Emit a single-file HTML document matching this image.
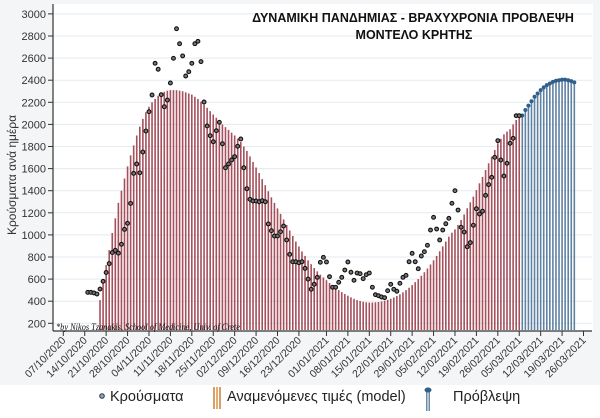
<!DOCTYPE html>
<html><head><meta charset="utf-8"><style>
html,body{margin:0;padding:0;background:#fff;}
svg{display:block;font-family:"Liberation Sans","DejaVu Sans",sans-serif;}
</style></head><body>
<svg id="chart" width="600" height="418" viewBox="0 0 600 418">
<rect x="0" y="0" width="600" height="385" fill="#f3f5f7"/>
<rect x="53" y="4" width="540" height="327" fill="#ffffff"/>
<g id="grid"></g>
<g id="bars"></g>
<g id="dots"></g>
<g id="axes"></g>
<text x="12" y="179" transform="rotate(-90 12 175)" text-anchor="middle" font-size="12" fill="#333">Κρούσματα ανά ημέρα</text>
<text x="413" y="22" text-anchor="middle" font-size="12.5" font-weight="bold" fill="#111">ΔΥΝΑΜΙΚΗ ΠΑΝΔΗΜΙΑΣ - ΒΡΑΧΥΧΡΟΝΙΑ ΠΡΟΒΛΕΨΗ</text>
<text x="414" y="39" text-anchor="middle" font-size="12.5" font-weight="bold" fill="#111">ΜΟΝΤΕΛΟ ΚΡΗΤΗΣ</text>
<text x="56" y="330" font-size="9" font-style="italic" font-family="Liberation Serif,serif" fill="#111" textLength="184" lengthAdjust="spacingAndGlyphs">*by Nikos Tzanakis, School of Medicine, Univ. of Crete</text>
<g>
<circle cx="102" cy="396" r="2.3" fill="#8aa" stroke="#335" stroke-width="1"/>
<text x="110" y="401" font-size="14.5" fill="#222">Κρούσματα</text>
<g>
<rect x="213" y="387" width="2" height="22" fill="#d9a066"/><rect x="216" y="387" width="2" height="22" fill="#e0b07a"/><rect x="219" y="387" width="2" height="22" fill="#d9a066"/>
</g>
<text x="227" y="401" font-size="14.5" fill="#222">Αναμενόμενες τιμές (model)</text>
<g>
<rect x="426" y="389" width="1.5" height="22" fill="#6b8aa6"/><rect x="428.5" y="389" width="1.5" height="22" fill="#6b8aa6"/><ellipse cx="428" cy="390" rx="3.5" ry="2.5" fill="#2f5f8a"/>
</g>
<text x="453" y="401" font-size="14.5" fill="#222">Πρόβλεψη</text>
</g>
</svg>
<script>
const yTicks = [200,400,600,800,1000,1200,1400,1600,1800,2000,2200,2400,2600,2800,3000];
const xTickLabels = ["07/10/2020","14/10/2020","21/10/2020","28/10/2020","04/11/2020","11/11/2020","18/11/2020","25/11/2020","02/12/2020","09/12/2020","16/12/2020","23/12/2020","01/01/2021","08/01/2021","15/01/2021","22/01/2021","29/01/2021","05/02/2021","12/02/2021","19/02/2021","26/02/2021","05/03/2021","12/03/2021","19/03/2021","26/03/2021"];
const xTickDays = [0,7,14,21,28,35,42,49,56,63,70,77,86,93,100,107,114,121,128,135,142,149,156,163,170];
const modelStartDay = 12;
const modelValues = [410,576,727,862,1017,1150,1290,1400,
1510,1620,1720,1810,1900,1980,2050,2110,2160,2200,
2230,2260,2280,2295,2305,2310,2310,2310,2305,2300,
2290,2280,2270,2250,2230,2205,2180,2150,2120,2090,
2060,2030,2000,1975,1950,1925,1900,1870,1840,1800,
1760,1710,1660,1610,1560,1505,1450,1395,1340,1290,
1240,1190,1140,1090,1040,990,940,895,850,810,
770,735,700,670,640,615,590,565,540,520,
500,482,465,450,435,422,410,402,395,390,
388,388,390,393,398,404,412,422,434,447,
462,480,500,522,546,572,600,630,662,696,
732,770,810,852,896,940,984,1020,1050,1090,
1135,1185,1241,1295,1346,1405,1467,1525,1587,1648,
1708,1768,1829,1870,1910,1935,1956,2000,2040,2060];
const forecastStartDay = 150;
const forecastValues = [2080,2130,2170,2210,2250,2280,2310,2335,2355,2370,2385,2395,2400,2405,2405,2400,2392,2380];
const casesStartDay = 8;
const casesValues = [480,480,475,465,510,580,660,740,840,860,
835,915,1050,1105,1285,1557,1642,1562,1750,1940,
2115,2266,2553,2499,2269,2160,2220,2375,2598,2866,
2730,2620,2438,2477,2553,2730,2752,2568,2203,1986,
1898,1843,1943,2019,1825,1608,1642,1678,1708,1802,
1868,1608,1418,1322,1307,1307,1300,1310,1300,1099,
1038,990,990,1029,1080,954,824,757,757,748,
757,697,600,508,553,616,752,797,755,622,
526,526,571,616,682,755,662,589,655,649,
604,640,655,526,459,450,438,432,495,553,
508,490,562,616,634,757,833,757,694,809,
848,906,1044,1159,1053,954,1044,1101,1150,1286,
1400,1225,1069,1026,893,930,1087,1237,1189,1214,
1358,1455,1521,1702,1853,1678,1533,1648,1829,1874,
2079,2079];

const NS = "http://www.w3.org/2000/svg";
function xS(d){ return 63.3 + d*3.06; }
function yS(v){ return 323.3 - (v-200)*0.1105; }
const baseY = 330;
function mk(tag, attrs, parent){
  const el = document.createElementNS(NS, tag);
  for (const k in attrs) el.setAttribute(k, attrs[k]);
  parent.appendChild(el);
  return el;
}
const grid = document.getElementById('grid');
const axes = document.getElementById('axes');
const bars = document.getElementById('bars');
const dots = document.getElementById('dots');

yTicks.forEach(v => {
  const g = mk('line', {x1:54, x2:592, y1:yS(v), y2:yS(v), stroke:'#e3eaf0', 'stroke-width':1}, grid);
  
  
  const t = mk('line', {x1:48, x2:53, y1:yS(v), y2:yS(v), stroke:'#333', 'stroke-width':1}, axes);
  
  
  const l = mk('text', {x:46, y:yS(v)+4, 'text-anchor':'end', 'font-size':11, fill:'#333'}, axes);
  l.textContent = v;
  
  
});
const ya = mk('line', {x1:53, x2:53, y1:4, y2:331, stroke:'#333', 'stroke-width':1.2}, axes);


const xa = mk('line', {x1:53, x2:592, y1:331, y2:331, stroke:'#333', 'stroke-width':1.2}, axes);


xTickLabels.forEach((lab, i) => {
  const x = xS(xTickDays[i]);
  const t = mk('line', {x1:x, x2:x, y1:331, y2:336, stroke:'#333', 'stroke-width':1}, axes);
  
  
  const l = mk('text', {x:x+3, y:341, 'text-anchor':'end', 'font-size':10.5, fill:'#333', transform:'rotate(-45 '+(x+3)+' 341)'}, axes);
  l.textContent = lab;
  
  
});

modelValues.forEach((v, i) => {
  const x = xS(modelStartDay + i);
  const b = mk('rect', {x:x-0.8, y:yS(v), width:1.6, height:baseY-yS(v), fill:'#a5505b'}, bars);
  
  
});
forecastValues.forEach((v, i) => {
  const x = xS(forecastStartDay + i);
  const b = mk('rect', {x:x-0.8, y:yS(v), width:1.6, height:baseY-yS(v), fill:'#5f82a3'}, bars);
  
  
  const c = mk('circle', {cx:x, cy:yS(v), r:2, fill:'#2f5f8a'}, dots);
  
  
});
casesValues.forEach((v, i) => {
  const x = xS(casesStartDay + i);
  const c = mk('circle', {cx:x, cy:yS(v), r:1.9, fill:'#777', stroke:'#111', 'stroke-width':1.1}, dots);
  
  
});
</script>
</body></html>
